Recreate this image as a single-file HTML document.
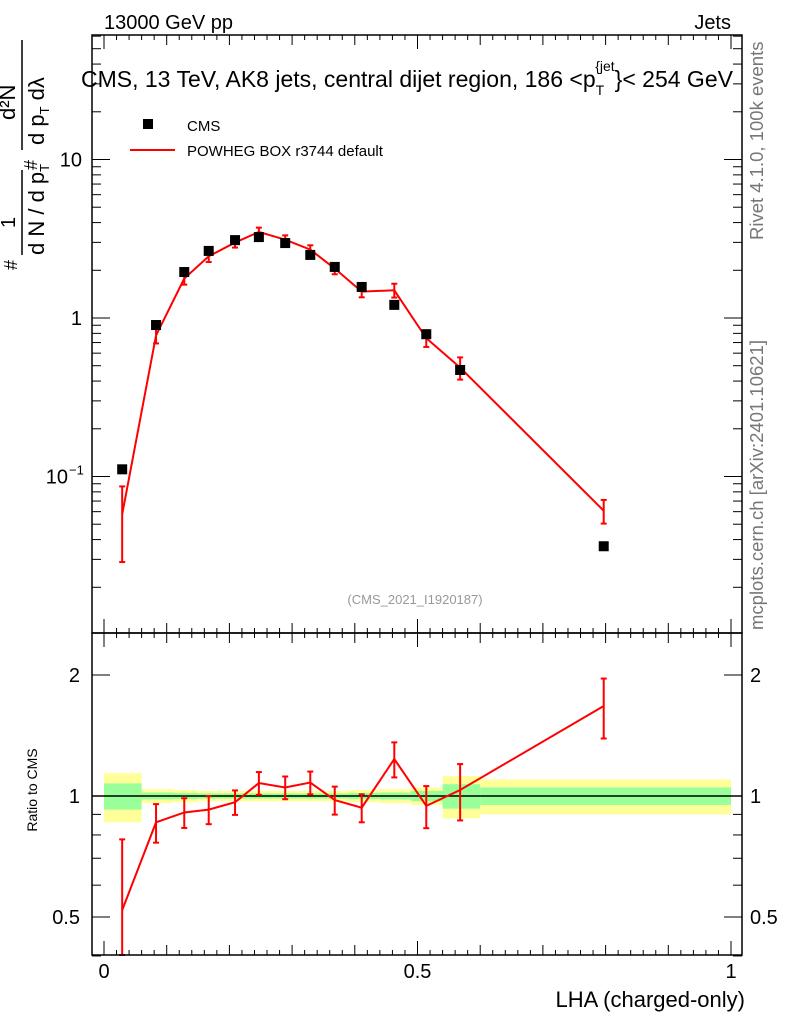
<!DOCTYPE html>
<html><head><meta charset="utf-8">
<style>
html,body{margin:0;padding:0;background:#fff;}
svg{display:block;font-family:"Liberation Sans",sans-serif;}
</style></head>
<body>
<svg id="chart" width="786" height="1024" viewBox="0 0 786 1024" xmlns="http://www.w3.org/2000/svg">
<g id="bands"></g>
<g id="main"></g>
<g id="ratio"></g>
<g id="axes"></g>
<text x="104" y="29" font-size="20">13000 GeV pp</text>
<text x="731" y="29" font-size="20" text-anchor="end">Jets</text>
<text x="81" y="87" font-size="23">CMS, 13 TeV, AK8 jets, central dijet region, 186 &lt;p<tspan font-size="14" dy="8">T</tspan><tspan font-size="14" dy="-24" dx="-9">{jet</tspan><tspan dy="16">}&lt; 254 GeV</tspan></text>
<text x="415" y="604" font-size="13" fill="#999" text-anchor="middle">(CMS_2021_I1920187)</text>
<g>
<rect x="143" y="119" width="10" height="10" fill="#000"/>
<text x="187" y="131" font-size="15">CMS</text>
<line x1="130" y1="150" x2="175" y2="150" stroke="#f00" stroke-width="2"/>
<text x="187" y="156" font-size="15">POWHEG BOX r3744 default</text>
</g>
<g transform="translate(47,150) rotate(-90)" font-size="22">
<text x="-120" y="-30" font-size="18">#</text>
<text x="-78" y="-32" font-size="20">1</text>
<line x1="-105" y1="-25" x2="-20" y2="-25" stroke="#000" stroke-width="1.5"/>
<text x="-105" y="-3">d N / d p<tspan font-size="13" dy="5">T</tspan></text>
<text x="-20" y="-10" font-size="18">#</text>
<text x="30" y="-32">d²N</text>
<line x1="0" y1="-25" x2="110" y2="-25" stroke="#000" stroke-width="1.5"/>
<text x="5" y="-3">d p<tspan font-size="13" dy="5">T</tspan><tspan dy="-5"> dλ</tspan></text>
</g>
<text transform="translate(37,790) rotate(-90)" font-size="14" text-anchor="middle">Ratio to CMS</text>
<text x="745" y="1007" font-size="22" text-anchor="end">LHA (charged-only)</text>
<text transform="translate(763,240) rotate(-90)" font-size="18.5" fill="#777">Rivet 4.1.0,  100k events</text>
<text transform="translate(763,630) rotate(-90)" font-size="18.5" fill="#777">mcplots.cern.ch [arXiv:2401.10621]</text>
</svg>
<script>
const xVals=[0.029,0.083,0.128,0.167,0.209,0.247,0.289,0.329,0.368,0.411,0.463,0.514,0.568,0.797];
const cmsVals=[0.111,0.903,1.95,2.65,3.10,3.24,2.97,2.50,2.10,1.57,1.21,0.79,0.47,0.0363];
const ratioVals=[0.52,0.86,0.91,0.925,0.965,1.077,1.05,1.08,0.977,0.935,1.236,0.945,1.035,1.675];
const mcErr=[0.5,0.11,0.085,0.08,0.07,0.065,0.065,0.065,0.08,0.08,0.1,0.12,0.16,0.17];
const binEdges=[0,0.06,0.11,0.15,0.19,0.23,0.27,0.31,0.35,0.39,0.44,0.49,0.54,0.6,1.0];
const yellowErr=[0.14,0.04,0.035,0.03,0.03,0.03,0.03,0.03,0.03,0.035,0.04,0.05,0.12,0.1];
const greenErr=[0.075,0.02,0.018,0.015,0.015,0.015,0.015,0.015,0.015,0.018,0.02,0.03,0.07,0.05];
const xTicks=[0,0.5,1];
const xTickLabels=["0","0.5","1"];

const NS="http://www.w3.org/2000/svg";
const X0=92,X1=742,MT=35,MB=633,RB=955;
const xs=v=>104+v*627;
const ym=v=>318-Math.log10(v)*158.5;
const yr=v=>796-Math.log2(v)*121;
function mk(tag,attrs,parent){const e=document.createElementNS(NS,tag);for(const k in attrs)e.setAttribute(k,attrs[k]);parent.appendChild(e);return e;}
const gm=document.getElementById('main'),gr=document.getElementById('ratio'),gb=document.getElementById('bands'),ga=document.getElementById('axes');

for(let i=0;i<binEdges.length-1;i++){
 const a=xs(binEdges[i]),b=xs(binEdges[i+1]);
 let r=mk('rect',{x:a,y:yr(1+yellowErr[i]),width:b-a,height:yr(1-yellowErr[i])-yr(1+yellowErr[i]),fill:'#ffff99'},gb);
 
 
 let g=mk('rect',{x:a,y:yr(1+greenErr[i]),width:b-a,height:yr(1-greenErr[i])-yr(1+greenErr[i]),fill:'#99ff99'},gb);
 
 
}
let one=mk('line',{x1:X0,x2:X1,y1:yr(1),y2:yr(1),stroke:'#000','stroke-width':1.5},gb);



const mcVals=cmsVals.map((c,i)=>c*ratioVals[i]);
let pts=xVals.map((x,i)=>xs(x)+','+ym(mcVals[i])).join(' ');
let pl=mk('polyline',{points:pts,fill:'none',stroke:'#f00','stroke-width':2},gm);


let rpts=xVals.map((x,i)=>xs(x)+','+yr(ratioVals[i])).join(' ');
let rl=mk('polyline',{points:rpts,fill:'none',stroke:'#f00','stroke-width':2},gr);


function errbar(parent,x,ylo,yhi,name){
 const g=mk('g',{},parent);
 
 
 mk('line',{x1:x,x2:x,y1:ylo,y2:yhi,stroke:'#f00','stroke-width':2},g);
 mk('line',{x1:x-3,x2:x+3,y1:ylo,y2:ylo,stroke:'#f00','stroke-width':2},g);
 mk('line',{x1:x-3,x2:x+3,y1:yhi,y2:yhi,stroke:'#f00','stroke-width':2},g);
}
xVals.forEach((x,i)=>{
 const m=mcVals[i],e=mcErr[i];
 errbar(gm,xs(x),ym(m*(1-e)),ym(m*(1+e)),'mc-error-bar');
 const r=ratioVals[i];
 errbar(gr,xs(x),Math.min(RB,yr(r*(1-e))),yr(r*(1+e)),'ratio-error-bar');
 const s=mk('rect',{x:xs(x)-5,y:ym(cmsVals[i])-5,width:10,height:10,fill:'#000'},gm);
 
 
});

[[MT,MB],[MB,RB]].forEach(([t,b])=>{
 const f=mk('rect',{x:X0,y:t,width:X1-X0,height:b-t,fill:'none',stroke:'#000','stroke-width':1.5},ga);
 
 
});
for(let k=0;k<=50;k++){
 const v=k*0.02,px=xs(v);
 const len=k%25==0?14:(k%5==0?10:5);
 [[MT,1],[MB,-1],[MB,1],[RB,-1]].forEach(([y0,d])=>mk('line',{x1:px,x2:px,y1:y0,y2:y0+d*len,stroke:'#000'},ga));
}
xTicks.forEach((v,i)=>{
 const t=mk('text',{x:xs(v),y:978,'font-size':20,'text-anchor':'middle'},ga);
 t.textContent=xTickLabels[i];
 
 
});
for(let d=-2;d<=1;d++)for(let m=1;m<=9;m++){
 const y=ym(m*Math.pow(10,d));
 if(y<MT||y>MB)continue;
 const len=m==1?18:9;
 mk('line',{x1:X0,x2:X0+len,y1:y,y2:y,stroke:'#000'},ga);
 mk('line',{x1:X1,x2:X1-len,y1:y,y2:y,stroke:'#000'},ga);
}
[[10,"10",null],[1,"1",null],[0.1,"10","−1"]].forEach(([v,l,sup])=>{
 const t=mk('text',{x:sup?68:82,y:ym(v)+7,'font-size':20,'text-anchor':'end'},ga);
 t.textContent=l;
 
 
 if(sup){const s=mk('text',{x:69,y:ym(v)-2,'font-size':13},ga);s.textContent=sup;
 
 }
});
[0.4,0.5,0.6,0.7,0.8,0.9,1,2].forEach(v=>{
 const y=yr(v),len=(v==0.5||v==1||v==2)?18:9;
 mk('line',{x1:X0,x2:X0+len,y1:y,y2:y,stroke:'#000'},ga);
 mk('line',{x1:X1,x2:X1-len,y1:y,y2:y,stroke:'#000'},ga);
});
[[2,"2"],[1,"1"],[0.5,"0.5"]].forEach(([v,l])=>{
 const t=mk('text',{x:80,y:yr(v)+7,'font-size':20,'text-anchor':'end'},ga);t.textContent=l;
 
 
 const t2=mk('text',{x:750,y:yr(v)+7,'font-size':20},ga);t2.textContent=l;
 
 
});
</script>
</body></html>
